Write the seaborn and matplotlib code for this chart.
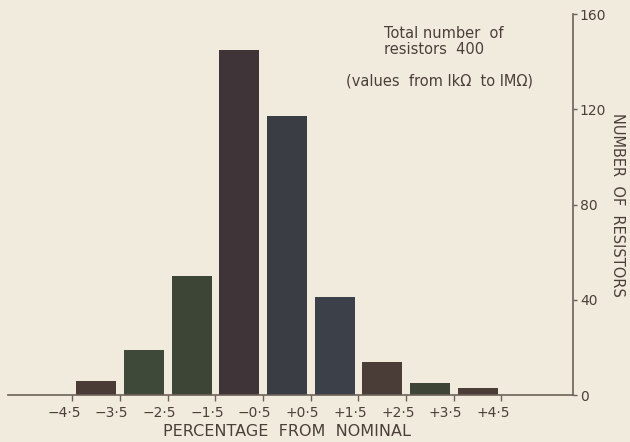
import matplotlib
matplotlib.use("Agg")
import matplotlib.pyplot as plt
import matplotlib.transforms as mtransforms
import seaborn as sns
import pandas as pd

# Data
bin_centres = [-4, -3, -2, -1, 0, 1, 2, 3, 4]
counts = [6, 19, 50, 145, 117, 41, 14, 5, 3]
bar_colours = ["#4b3b37", "#3f4939", "#3d4636", "#3f3539", "#3b3d44",
               "#3c4048", "#4a3c36", "#3e4537", "#4d3d38"]
x_tick_pos = [-4.5, -3.5, -2.5, -1.5, -0.5, 0.5, 1.5, 2.5, 3.5, 4.5]
x_tick_labels = ["−4·5", "−3·5", "−2·5", "−1·5", "−0·5", "+0·5", "+1·5",
                 "+2·5", "+3·5", "+4·5"]
y_ticks = [0, 40, 80, 120, 160]

sns.set_theme(style="white")
plt.rcParams["font.family"] = ["DejaVu Sans"]

bg = "#f1ebdd"
ink = "#4a4038"
axis_col = "#6e6158"

fig = plt.figure(figsize=(6.3, 4.42), dpi=100, facecolor=bg)
ax = fig.add_axes([0.0127, 0.1063, 0.9095 - 0.0127, 0.9683 - 0.1063])
ax.set_facecolor(bg)

df = pd.DataFrame({"centre": bin_centres, "count": counts})
sns.barplot(data=df, x="centre", y="count", hue="centre", palette=bar_colours,
            native_scale=True, width=0.84, legend=False, ax=ax,
            edgecolor="none", saturation=1)

ax.set_xlim(-5.85, 6.0)
ax.set_ylim(0, 160)

for s in ["top", "left"]:
    ax.spines[s].set_visible(False)
for s in ["bottom", "right"]:
    ax.spines[s].set_visible(True)
    ax.spines[s].set_color(axis_col)
    ax.spines[s].set_linewidth(1.2)

ax.set_xticks(x_tick_pos)
ax.set_xticklabels(x_tick_labels, fontsize=10, color=ink)
ax.tick_params(axis="x", direction="out", length=4, width=1, color=axis_col, pad=4,
               bottom=True)
shift = mtransforms.ScaledTranslation(-6 / 72, 0, fig.dpi_scale_trans)
for lab in ax.get_xticklabels():
    lab.set_transform(lab.get_transform() + shift)

ax.yaxis.tick_right()
ax.set_yticks(y_ticks)
ax.set_yticklabels([str(v) for v in y_ticks], fontsize=10, color=ink)
ax.tick_params(axis="y", direction="out", length=3, width=1, color=axis_col, pad=2,
               right=True, left=False)

ax.set_xlabel("")
ax.set_ylabel("")
ax.text(0.0, -0.097, "PERCENTAGE  FROM  NOMINAL", transform=ax.get_xaxis_transform(),
        ha="center", va="center", fontsize=11.5, color=ink)
ax.text(1.078, 0.5, "NUMBER  OF  RESISTORS", transform=ax.transAxes,
        rotation=270, ha="center", va="center", fontsize=10.5, color=ink)

ax.text(2.03, 152, "Total number  of", ha="left", va="center",
        fontsize=10.5, color=ink)
ax.text(2.03, 145.3, "resistors  400", ha="left", va="center",
        fontsize=10.5, color=ink)
ax.text(3.21, 131.9, "(values  from lkΩ  to lMΩ)", ha="center", va="center",
        fontsize=10.5, color=ink)

fig.savefig("out.png", dpi=100, facecolor=bg)
